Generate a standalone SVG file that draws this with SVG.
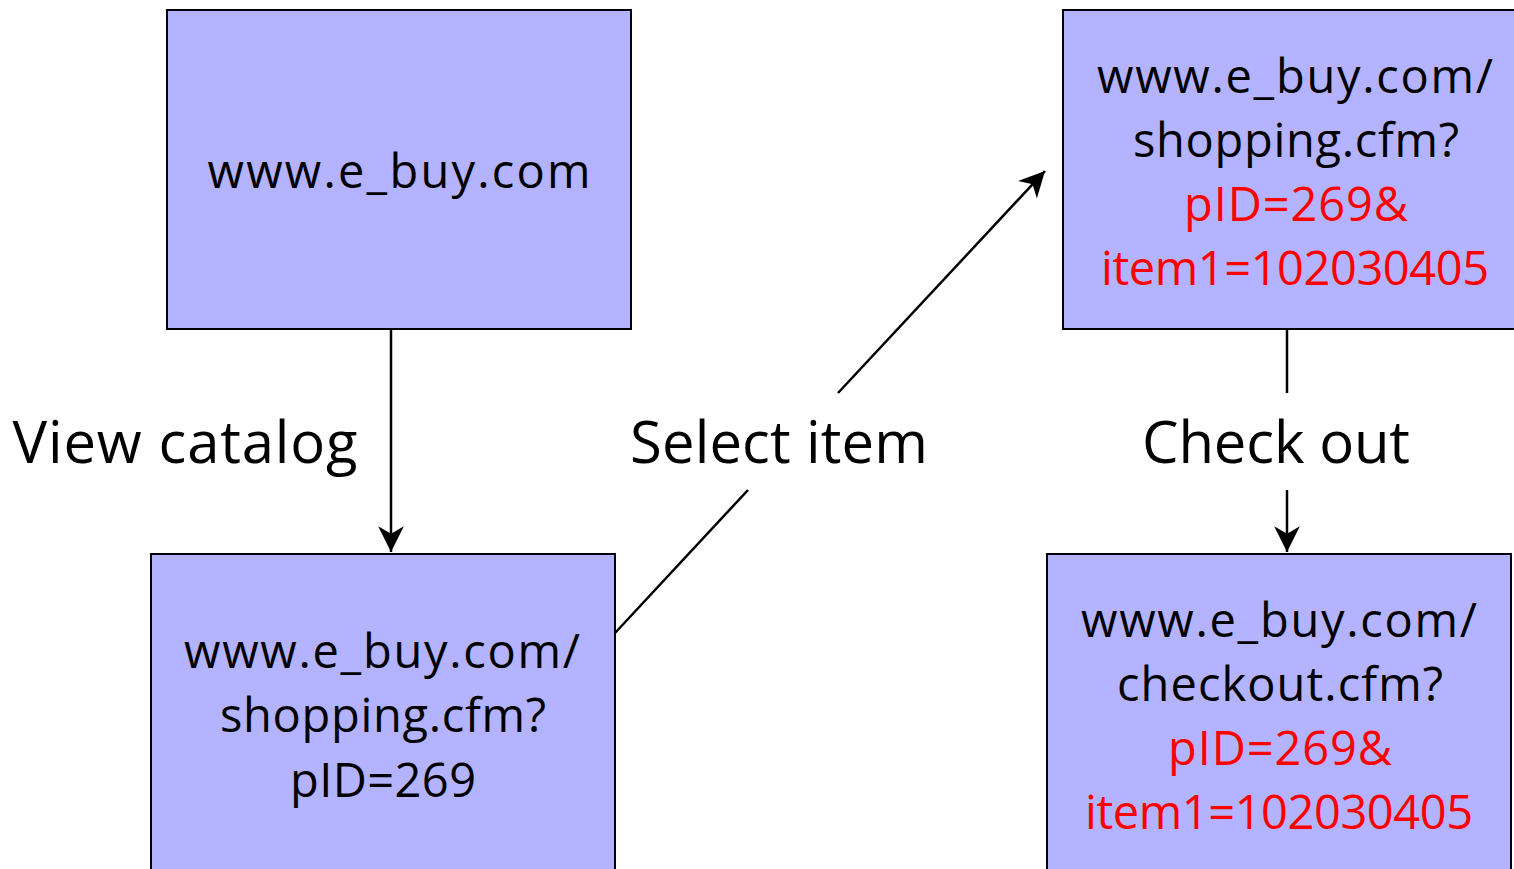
<svg xmlns="http://www.w3.org/2000/svg" width="1514" height="869" viewBox="0 0 1514 869">
<style>
.box{fill:#b3b3ff;stroke:#000;stroke-width:2}
.t{font-family:"Open Sans","Liberation Sans",sans-serif;font-size:47px;fill:#000;text-anchor:middle}
.r{fill:#ff0000}
.lbl{font-family:"Open Sans","Liberation Sans",sans-serif;font-size:58px;fill:#000;text-anchor:middle}
.c{stroke:#000;stroke-width:2.5;fill:none}
</style>
<defs>
<marker id="ah" markerUnits="userSpaceOnUse" markerWidth="30" markerHeight="30" viewBox="-26 -14 28 28" refX="0" refY="0" orient="auto">
<path d="M0,0 L-24,-12 L-17,0 L-24,12 Z" fill="#000"/>
</marker>
</defs>
<rect width="1514" height="869" fill="#fff"/>
<g id="connectors">
<line class="c" x1="391" y1="329" x2="391" y2="552" marker-end="url(#ah)"/>
<line class="c" x1="615" y1="633" x2="748" y2="490"/>
<line class="c" x1="838" y1="393" x2="1045" y2="171" marker-end="url(#ah)"/>
<line class="c" x1="1287" y1="329" x2="1287" y2="393"/>
<line class="c" x1="1287" y1="490" x2="1287" y2="552" marker-end="url(#ah)"/>
</g>
<g id="label-view"><text class="lbl" x="185" y="463" textLength="345">View catalog</text></g>
<g id="label-select"><text class="lbl" x="779" y="463" textLength="298">Select item</text></g>
<g id="label-check"><text class="lbl" x="1276" y="463" textLength="268">Check out</text></g>
<g id="node-home">
<rect class="box" x="167" y="10" width="464" height="319"/>
<text class="t" x="399" y="188" textLength="383">www.e_buy.com</text>
</g>
<g id="node-shopping1">
<rect class="box" x="151" y="554" width="464" height="330"/>
<text class="t" x="382" y="668" textLength="396">www.e_buy.com/</text>
<text class="t" x="383" y="732" textLength="326">shopping.cfm?</text>
<text class="t" x="383" y="797" textLength="186">pID=269</text>
</g>
<g id="node-shopping2">
<rect class="box" x="1063" y="10" width="464" height="319"/>
<text class="t" x="1295" y="93" textLength="396">www.e_buy.com/</text>
<text class="t" x="1296" y="157" textLength="326">shopping.cfm?</text>
<text class="t r" x="1296" y="221" textLength="224">pID=269&amp;</text>
<text class="t r" x="1295" y="285" textLength="388">item1=102030405</text>
</g>
<g id="node-checkout">
<rect class="box" x="1047" y="554" width="464" height="330"/>
<text class="t" x="1279" y="637" textLength="396">www.e_buy.com/</text>
<text class="t" x="1280" y="701" textLength="326">checkout.cfm?</text>
<text class="t r" x="1280" y="765" textLength="224">pID=269&amp;</text>
<text class="t r" x="1279" y="829" textLength="388">item1=102030405</text>
</g>
</svg>
